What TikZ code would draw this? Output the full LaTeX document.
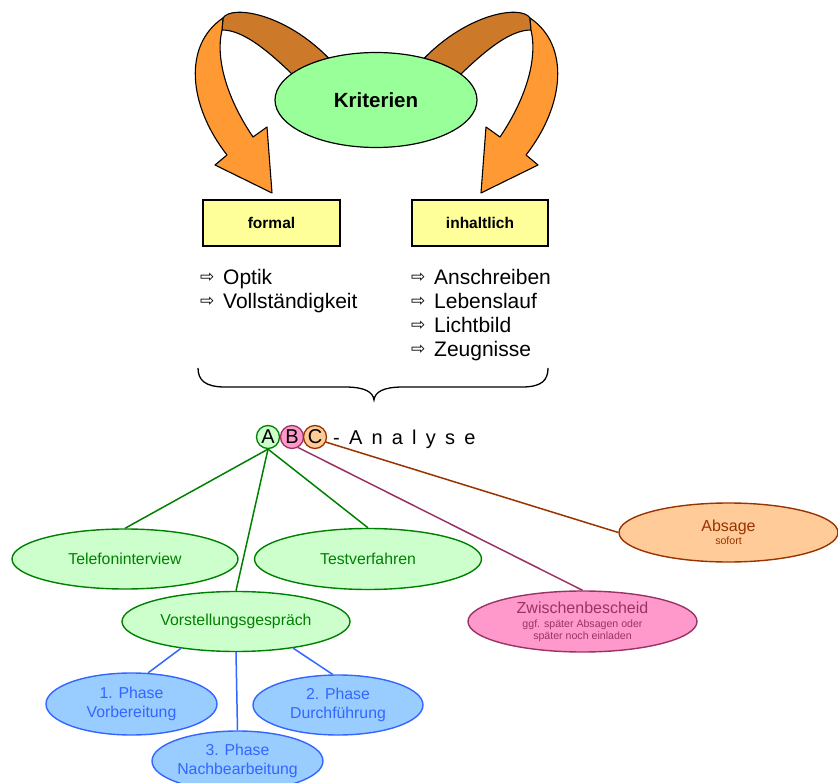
\documentclass[tikz,border=0pt]{standalone}
\usepackage{fontspec}
\setmainfont{Liberation Sans}
\newfontfamily\symfont{DejaVu Sans}
\usetikzlibrary{shapes.geometric}
\definecolor{kgreen}{HTML}{99FF99}
\definecolor{lgreen}{HTML}{CCFFCC}
\definecolor{dgreen}{HTML}{008000}
\definecolor{lyellow}{HTML}{FFFF99}
\definecolor{arrorange}{HTML}{FF9933}
\definecolor{arrbrown}{HTML}{CC7A29}
\definecolor{lpink}{HTML}{FF99CC}
\definecolor{dpink}{HTML}{993366}
\definecolor{lorange}{HTML}{FFCC99}
\definecolor{dorange}{HTML}{993300}
\definecolor{lblue}{HTML}{99CCFF}
\definecolor{dblue}{HTML}{3366FF}
\tikzset{
  ell/.style={ellipse, inner sep=0pt, align=center, line width=1.4pt},
  gell/.style={ell, draw=dgreen, fill=lgreen, text=dgreen, font=\fontsize{15.8}{19}\selectfont},
  bell/.style={ell, draw=dblue, fill=lblue, text=dblue, font=\fontsize{15.8}{19}\selectfont},
  pell/.style={ell, draw=dpink, fill=lpink, text=dpink, font=\fontsize{16}{12}\selectfont},
  oell/.style={ell, draw=dorange, fill=lorange, text=dorange, font=\fontsize{16}{13}\selectfont},
  ybox/.style={rectangle, draw=black, fill=lyellow, line width=1.3pt, inner sep=0pt, font=\bfseries\fontsize{15.5}{18}\selectfont},
  listitem/.style={anchor=base west, inner sep=0pt, font=\fontsize{21}{24}\selectfont},
  abc/.style={circle, inner sep=0pt, minimum size=23pt, line width=1.3pt, font=\fontsize{20}{24}\selectfont},
  bigarrow/.style={draw=black, line width=1.1pt, line join=round},
  gline/.style={draw=dgreen, line width=1.5pt},
  bline/.style={draw=dblue, line width=1.5pt},
  pline/.style={draw=dpink, line width=1.5pt},
  oline/.style={draw=dorange, line width=1.5pt},
}
\newcommand{\larr}{\makebox[23pt][l]{\raisebox{2pt}{\symfont\fontsize{17}{17}\selectfont ⇨}}}
\newcommand{\smallsz}{\fontsize{10.6}{12}\selectfont}
\begin{document}
\begin{tikzpicture}[x=1pt,y=-1pt]
\useasboundingbox (0,0) rectangle (838,783);
\clip (0,0) rectangle (838,783);

% curved arrows (left, then mirrored right)
\foreach \sh/\xs in {0/1, 753/-1}{
\begin{scope}[shift={(\sh,0)}, xscale=\xs]
  \filldraw[bigarrow, fill=arrbrown] (222,30) -- (223,18) .. controls (232,4) and (290,14) .. (335,65)
     -- (300,80) -- (292,74) .. controls (265,48) and (242,30) .. (222,30) -- cycle;
  \filldraw[bigarrow, fill=arrorange] (223,18) .. controls (183,45) and (188,105) .. (227,155)
     -- (215,165) -- (272,193) -- (267,127) -- (253,137)
     .. controls (228,100) and (215,60) .. (222,30) -- cycle;
\end{scope}
}

\node[ellipse, draw=black, fill=kgreen, line width=1.2pt, inner sep=0pt,
      minimum width=202pt, minimum height=95pt,
      font=\bfseries\fontsize{20.5}{24}\selectfont] (krit) at (376,100) {Kriterien};

\node[ybox, minimum width=137pt, minimum height=46pt] (formal) at (271.5,223) {formal};
\node[ybox, minimum width=136pt, minimum height=46pt] (inh) at (480,223) {inhaltlich};

\node[listitem] (l1) at (200,285) {\larr Optik};
\node[listitem] (l2) at (200,309) {\larr Vollständigkeit};
\node[listitem] (r1) at (411,285) {\larr Anschreiben};
\node[listitem] (r2) at (411,309) {\larr Lebenslauf};
\node[listitem] (r3) at (411,333) {\larr Lichtbild};
\node[listitem] (r4) at (411,357) {\larr Zeugnisse};

% brace
\draw[line width=1.3pt] (198,368) .. controls (198,380) and (205,387) .. (225,387) -- (345,387)
  .. controls (365,387) and (373,392) .. (374,400)
  .. controls (375,392) and (383,387) .. (403,387) -- (522,387)
  .. controls (542,387) and (548,380) .. (548,368);

% ABC
\node[abc, draw=dgreen, fill=lgreen] (A) at (268,437) {A};
\node[abc, draw=dpink, fill=lpink] (B) at (292,437) {B};
\node[abc, draw=dorange, fill=lorange] (C) at (315,437) {C};
\node[anchor=base west, inner sep=0pt, font=\fontsize{20}{24}\selectfont] (ana) at (333,444)
  {\spaceskip=9.2pt\relax - A n a l y s e};

% ellipses
\node[gell, minimum width=226pt, minimum height=60pt] (tel) at (125,559) {Telefoninterview};
\node[gell, minimum width=227pt, minimum height=61pt] (test) at (368,559) {Testverfahren};
\node[gell, minimum width=228pt, minimum height=60pt] (vor) at (236,621.5) {Vorstellungsgespräch};
\node[oell, minimum width=219pt, minimum height=59pt] (abs) at (728.5,532.5)
  {Absage\\\smallsz sofort};
\node[pell, minimum width=229pt, minimum height=61pt] (zw) at (582.5,621.5)
  {Zwischenbescheid\\[2pt]\smallsz ggf. später Absagen oder\\\smallsz später noch einladen};
\node[bell, minimum width=171pt, minimum height=62pt] (p1) at (131.5,704) {1. Phase\\Vorbereitung};
\node[bell, minimum width=170pt, minimum height=60pt] (p2) at (338,705) {2. Phase\\Durchführung};
\node[bell, minimum width=171pt, minimum height=60pt] (p3) at (237.5,761) {3. Phase\\Nachbearbeitung};

% connectors
\draw[gline] (A.south) -- (tel.north);
\draw[gline] (A.south) -- (test.north);
\draw[gline] (A.south) -- (vor.north);
\draw[pline] (B.-60) -- (zw.north);
\draw[oline] (C.-25) -- (abs.west);
\draw[bline] (vor.206) -- (p1.62);
\draw[bline] (vor.south) -- (p3.north);
\draw[bline] (vor.335) -- (p2.100);
\end{tikzpicture}
\end{document}
